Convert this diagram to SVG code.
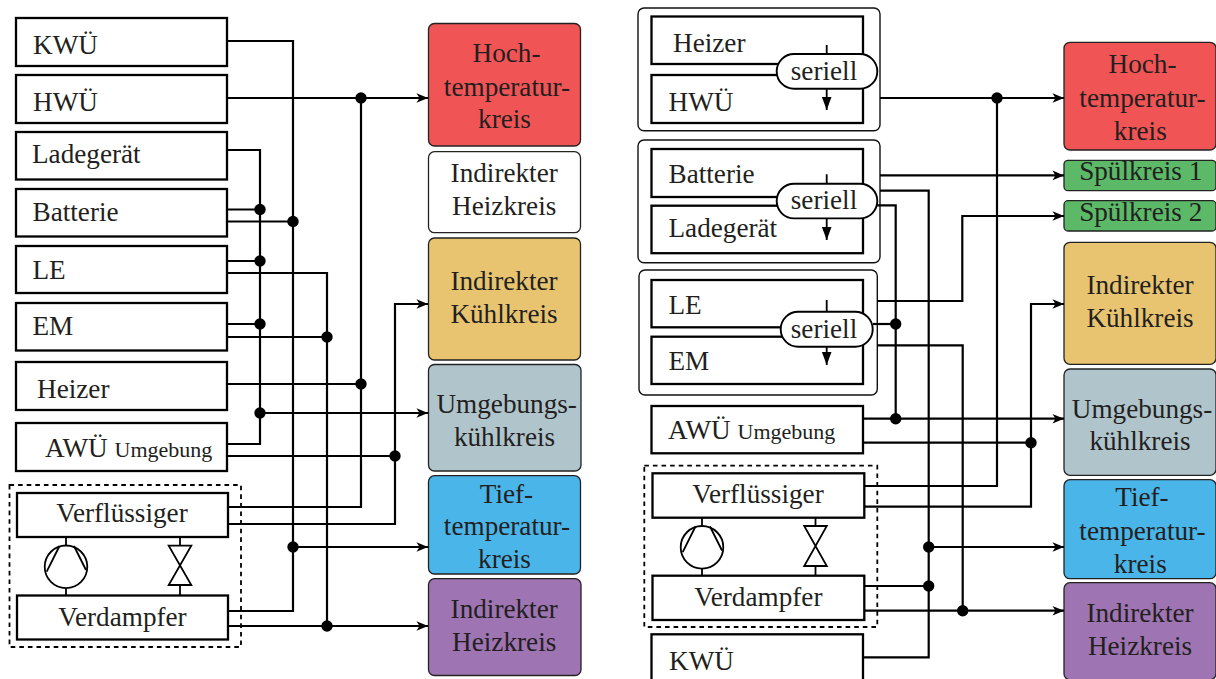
<svg xmlns="http://www.w3.org/2000/svg" width="1216" height="679" viewBox="0 0 1216 679">
<style>
text{font-family:"Liberation Serif","Times New Roman",serif;font-size:27.2px;fill:#231f20;transform:translateY(.4px)}
.m{text-anchor:middle}
.s{font-size:22px}
.b{fill:#fff;stroke:#000;stroke-width:2.3}
.o{fill:#fff;stroke:#111;stroke-width:1.4}
.c{stroke:#222;stroke-width:1.3}
.d{fill:none;stroke:#000;stroke-width:1.8;stroke-dasharray:4.6 4}
.l{fill:none;stroke:#000;stroke-width:2.2;stroke-linejoin:miter}
.a{marker-end:url(#arr)}
.j{fill:#000}
.y{fill:none;stroke:#000;stroke-width:1.8}
.w{fill:#fff;stroke:#000;stroke-width:1.9}
.h{fill:none;stroke:#000;stroke-width:1.8;marker-end:url(#tri)}
</style>
<defs>
<marker id="arr" markerUnits="userSpaceOnUse" markerWidth="14" markerHeight="12" refX="12" refY="6" orient="auto"><path d="M0.5,1.2 L12,6 L0.5,10.8 L3.5,6Z" fill="#000"/></marker>
<marker id="tri" markerUnits="userSpaceOnUse" markerWidth="14" markerHeight="12" refX="13" refY="6" orient="auto"><path d="M0,1.2 L13,6 L0,10.8Z" fill="#000"/></marker>
</defs>

<g id="l-dashed"><rect class="d" x="9.5" y="485" width="231.5" height="162"/></g>
<g id="l-kwu"><rect class="b" x="16" y="18" width="211" height="48"/><text x="33" y="53.5">KWÜ</text></g>
<g id="l-hwu"><rect class="b" x="16" y="75" width="211" height="48"/><text x="33" y="110.5">HWÜ</text></g>
<g id="l-lade"><rect class="b" x="16" y="132" width="211" height="47.5"/><text x="32" y="162.7">Ladegerät</text></g>
<g id="l-batt"><rect class="b" x="16" y="189" width="211" height="47.5"/><text x="32.5" y="221">Batterie</text></g>
<g id="l-le"><rect class="b" x="16" y="246" width="211" height="47"/><text x="32.5" y="278.7">LE</text></g>
<g id="l-em"><rect class="b" x="16" y="303" width="211" height="47.5"/><text x="32.5" y="335">EM</text></g>
<g id="l-heizer"><rect class="b" x="16" y="362" width="211" height="48"/><text x="37" y="397.3">Heizer</text></g>
<g id="l-awu"><rect class="b" x="16" y="423" width="211" height="48"/><text x="45" y="456.7">AWÜ <tspan class="s">Umgebung</tspan></text></g>
<g id="l-verfl"><rect class="b" x="17" y="493" width="211" height="44"/><text class="m" x="122" y="521.3">Verflüssiger</text></g>
<g id="l-verd"><rect class="b" x="17" y="595.5" width="211" height="44"/><text class="m" x="122.5" y="626">Verdampfer</text></g>
<g id="l-pump"><path class="y" d="M66,537V545.5M66,588V595.5"/><circle class="y" cx="66" cy="566.8" r="21.3"/><path class="y" d="M59.5,546L46.7,571.7M74,546L86,570"/></g>
<g id="l-valve"><path class="y" d="M180,537V545.7M180,585V595.5"/><path class="y" d="M168.7,545.7H191.3L168.7,585H191.3Z"/></g>

<g id="l-hoch"><rect class="c" x="428.5" y="23.5" width="152" height="122.5" rx="6" fill="#f15454"/><text class="m" x="506.5" y="61.7">Hoch-</text><text class="m" x="507" y="95.5">temperatur-</text><text class="m" x="504.5" y="127.7">kreis</text></g>
<g id="l-indheiz1"><rect class="c" x="428.5" y="151.7" width="152" height="81" rx="6" fill="#fff"/><text class="m" x="504.2" y="181.7">Indirekter</text><text class="m" x="504.2" y="215">Heizkreis</text></g>
<g id="l-indkuehl"><rect class="c" x="428.5" y="238" width="152" height="122" rx="6" fill="#e8c470"/><text class="m" x="504" y="290">Indirekter</text><text class="m" x="504" y="322.7">Kühlkreis</text></g>
<g id="l-umg"><rect class="c" x="428.5" y="364.5" width="152.5" height="106.5" rx="6" fill="#b0c4cc"/><text class="m" x="506.7" y="412.3">Umgebungs-</text><text class="m" x="504.5" y="445.7">kühlkreis</text></g>
<g id="l-tief"><rect class="c" x="428.5" y="475.7" width="152" height="98.3" rx="6" fill="#4ab5e9"/><text class="m" x="506.5" y="502.3">Tief-</text><text class="m" x="507" y="535">temperatur-</text><text class="m" x="504.5" y="567.7">kreis</text></g>
<g id="l-indheiz2"><rect class="c" x="428.5" y="578.7" width="152.5" height="96.8" rx="6" fill="#9e74b2"/><text class="m" x="504.2" y="617.7">Indirekter</text><text class="m" x="504.2" y="650.7">Heizkreis</text></g>

<g id="r-group1"><rect class="o" x="638" y="8" width="242" height="122.7" rx="6"/><rect class="b" x="651.5" y="16.5" width="211.5" height="47.5"/><rect class="b" x="651.5" y="75" width="211.5" height="48"/><text x="673" y="51.7">Heizer</text><text x="668.5" y="110.3">HWÜ</text><path class="h" d="M826.7,45V110"/><rect class="w" x="776.7" y="54" width="100.6" height="34.7" rx="17.3"/><text class="m" x="824" y="79.3">seriell</text></g>
<g id="r-group2"><rect class="o" x="638" y="140" width="242" height="122.7" rx="6"/><rect class="b" x="651.5" y="149" width="211.5" height="48"/><rect class="b" x="651.5" y="205.7" width="211.5" height="47.5"/><text x="668.5" y="182.3">Batterie</text><text x="668.5" y="236.3">Ladegerät</text><path class="h" d="M826.7,174.3V240"/><rect class="w" x="776.7" y="183.7" width="100.6" height="34.7" rx="17.3"/><text class="m" x="824" y="209">seriell</text></g>
<g id="r-group3"><rect class="o" x="639" y="270" width="238.3" height="125" rx="6"/><rect class="b" x="651.5" y="280" width="211.5" height="47.3"/><rect class="b" x="651.5" y="336.7" width="211.5" height="47.3"/><text x="668.5" y="314">LE</text><text x="668.5" y="370">EM</text><path class="h" d="M826.7,300V365"/><rect class="w" x="780.7" y="311.7" width="92" height="35" rx="17.5"/><text class="m" x="824" y="337.3">seriell</text></g>
<g id="r-awu"><rect class="b" x="651.5" y="406" width="211.5" height="47.3"/><text x="668" y="438.3">AWÜ <tspan class="s">Umgebung</tspan></text></g>
<g id="r-dashed"><rect class="d" x="644.3" y="465.7" width="233" height="161.3"/></g>
<g id="r-verfl"><rect class="b" x="652.5" y="473.3" width="211.8" height="44.4"/><text class="m" x="758" y="502.3">Verflüssiger</text></g>
<g id="r-verd"><rect class="b" x="652.5" y="575.7" width="211.8" height="44.3"/><text class="m" x="758.3" y="606">Verdampfer</text></g>
<g id="r-kwu"><rect class="b" x="651.5" y="634.3" width="211.5" height="50"/><text x="669" y="669.3">KWÜ</text></g>
<g id="r-pump"><path class="y" d="M702,517.7V526M702,568.5V575.7"/><circle class="y" cx="702" cy="547.3" r="21.3"/><path class="y" d="M695.5,526.5L682.7,552.2M710,526.5L722,550.5"/></g>
<g id="r-valve"><path class="y" d="M815.5,517.7V526M815.5,566V575.7"/><path class="y" d="M804.2,526H826.8L804.2,566H826.8Z"/></g>

<g id="r-hoch"><rect class="c" x="1064" y="42.3" width="152" height="107.7" rx="6" fill="#f15454"/><text class="m" x="1142.5" y="72.3">Hoch-</text><text class="m" x="1142.5" y="106.7">temperatur-</text><text class="m" x="1140.3" y="139.3">kreis</text></g>
<g id="r-sp1"><rect class="c" x="1064" y="160.3" width="152" height="30.4" rx="4" fill="#5cb968"/><text class="m" x="1140.7" y="180">Spülkreis 1</text></g>
<g id="r-sp2"><rect class="c" x="1064" y="200.7" width="152" height="30.3" rx="4" fill="#5cb968"/><text class="m" x="1140.7" y="220.3">Spülkreis 2</text></g>
<g id="r-indkuehl"><rect class="c" x="1064" y="242.3" width="152" height="122" rx="6" fill="#e8c470"/><text class="m" x="1140" y="294">Indirekter</text><text class="m" x="1140" y="326.7">Kühlkreis</text></g>
<g id="r-umg"><rect class="c" x="1064" y="369" width="152" height="106.3" rx="6" fill="#b0c4cc"/><text class="m" x="1142" y="417.3">Umgebungs-</text><text class="m" x="1140" y="450">kühlkreis</text></g>
<g id="r-tief"><rect class="c" x="1064" y="479.7" width="152" height="99" rx="6" fill="#4ab5e9"/><text class="m" x="1142" y="505.7">Tief-</text><text class="m" x="1142.5" y="539.3">temperatur-</text><text class="m" x="1140.3" y="572.3">kreis</text></g>
<g id="r-indheiz"><rect class="c" x="1064" y="582.7" width="152" height="97" rx="6" fill="#9e74b2"/><text class="m" x="1140" y="621.7">Indirekter</text><text class="m" x="1140" y="654.3">Heizkreis</text></g>

<g id="connectors">
<path class="l" d="M227,41H293V611H228"/>
<path class="l a" d="M227,98H428"/>
<path class="l" d="M361,98V507H228"/>
<path class="l" d="M227,150H260V444H227"/>
<path class="l" d="M227,209.5H260M227,221.5H293M227,261H260M227,324H260M227,337H327M227,384H361"/>
<path class="l" d="M227,273H327V626"/>
<path class="l a" d="M260,413H428"/>
<path class="l" d="M227,456H395"/>
<path class="l a" d="M228,524H395V304H428"/>
<path class="l a" d="M293,547H428"/>
<path class="l a" d="M228,626H428"/>
<circle class="j" cx="361" cy="98" r="5.7"/><circle class="j" cx="260" cy="209.5" r="5.7"/><circle class="j" cx="293" cy="221.5" r="5.7"/><circle class="j" cx="260" cy="261" r="5.7"/><circle class="j" cx="260" cy="324" r="5.7"/><circle class="j" cx="327" cy="337" r="5.7"/><circle class="j" cx="361" cy="384" r="5.7"/><circle class="j" cx="260" cy="413" r="5.7"/><circle class="j" cx="395" cy="456" r="5.7"/><circle class="j" cx="293" cy="547" r="5.7"/><circle class="j" cx="327" cy="626" r="5.7"/>

<path class="l a" d="M880,98H1064"/>
<path class="l" d="M997,98V486H864.3"/>
<path class="l a" d="M880,175.4H1064"/>
<path class="l" d="M880,190.7H928.7V657.3H863"/>
<path class="l" d="M877.3,205.3H895.7V418.7"/>
<path class="l a" d="M877.3,301H962.3V216H1064"/>
<path class="l" d="M873,324H895.7"/>
<path class="l" d="M877.3,345.3H962.7V610.7"/>
<path class="l a" d="M863,418.7H1064"/>
<path class="l" d="M863,442.7H1031"/>
<path class="l a" d="M864.3,506.7H1031V304H1064"/>
<path class="l a" d="M928.7,547H1064"/>
<path class="l" d="M864.3,586H928.7"/>
<path class="l a" d="M864.3,610.7H1064"/>
<circle class="j" cx="997" cy="98" r="5.7"/><circle class="j" cx="895.7" cy="324" r="5.7"/><circle class="j" cx="895.7" cy="418.7" r="5.7"/><circle class="j" cx="1031" cy="442.7" r="5.7"/><circle class="j" cx="928.7" cy="547" r="5.7"/><circle class="j" cx="928.7" cy="586" r="5.7"/><circle class="j" cx="962.7" cy="610.7" r="5.7"/>
</g>
</svg>
